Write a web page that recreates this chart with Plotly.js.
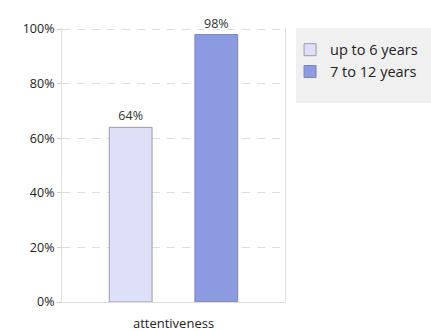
<!DOCTYPE html>
<html>
<head>
<meta charset="utf-8">
<script src="https://cdn.plot.ly/plotly-3.0.1.min.js"></script>
<style>html,body{margin:0;padding:0;background:#fff;}#chart{width:431px;height:331px;}</style>
</head>
<body>
<div id="chart"></div>
<script>
const categories = ["attentiveness"];
const seriesNames = ["up to 6 years", "7 to 12 years"];
const upTo6 = [64];
const sevenTo12 = [98];
const tickVals = [0, 20, 40, 60, 80, 100];
const tickText = ["0%", "20%", "40%", "60%", "80%", "100%"];

const font = "Open Sans, DejaVu Sans, sans-serif";
const traces = [
  {type: "bar", name: seriesNames[0], x: categories, y: upTo6,
   text: upTo6.map(v => v + "%"), textposition: "outside", cliponaxis: false,
   textfont: {size: 12.5, color: "#333"},
   marker: {color: "#dde0f6", line: {color: "#9a9aab", width: 1}}},
  {type: "bar", name: seriesNames[1], x: categories, y: sevenTo12,
   text: sevenTo12.map(v => v + "%"), textposition: "outside", cliponaxis: false,
   textfont: {size: 12.5, color: "#333"},
   marker: {color: "#8b9ae1", line: {color: "#8085aa", width: 1}}}
];
const layout = {
  width: 431, height: 331,
  margin: {l: 62, r: 146, t: 28, b: 29, pad: 0, autoexpand: false},
  paper_bgcolor: "#fff", plot_bgcolor: "#fff",
  font: {family: font, size: 12, color: "#333"},
  barmode: "group", bargap: 0.232, bargroupgap: 0.5,
  showlegend: true,
  hovermode: false,
  xaxis: {type: "category", showgrid: false, showline: true, linecolor: "#dcdcdc", linewidth: 1,
          mirror: false, ticks: "", ticklabelstandoff: 9, tickfont: {size: 13, color: "#222"}, fixedrange: true},
  yaxis: {range: [0, 100.4], tickvals: tickVals, ticktext: tickText, showgrid: true,
          gridcolor: "#dedede", griddash: "8px,7px", gridwidth: 1,
          showline: true, linecolor: "#e0e0e0", mirror: true, zeroline: false,
          ticks: "outside", ticklen: 4, tickcolor: "#ccc",
          tickfont: {size: 12.5, color: "#222"}, fixedrange: true},
  legend: {xref: "container", yref: "container", x: 0.673, y: 0.898, xanchor: "left", yanchor: "top",
           bgcolor: "rgba(0,0,0,0)",
           font: {size: 14.5, color: "#222"}, tracegroupgap: 9, itemwidth: 30},
  shapes: [
    {type: "rect", xref: "paper", yref: "paper", x0: 1.049, x1: 1.7, y0: 0.726, y1: 1.0,
     fillcolor: "#f0f0f0", line: {width: 0}, layer: "below"}
  ]
};
Plotly.newPlot("chart", traces, layout, {displayModeBar: false, staticPlot: true});
</script>
</body>
</html>
